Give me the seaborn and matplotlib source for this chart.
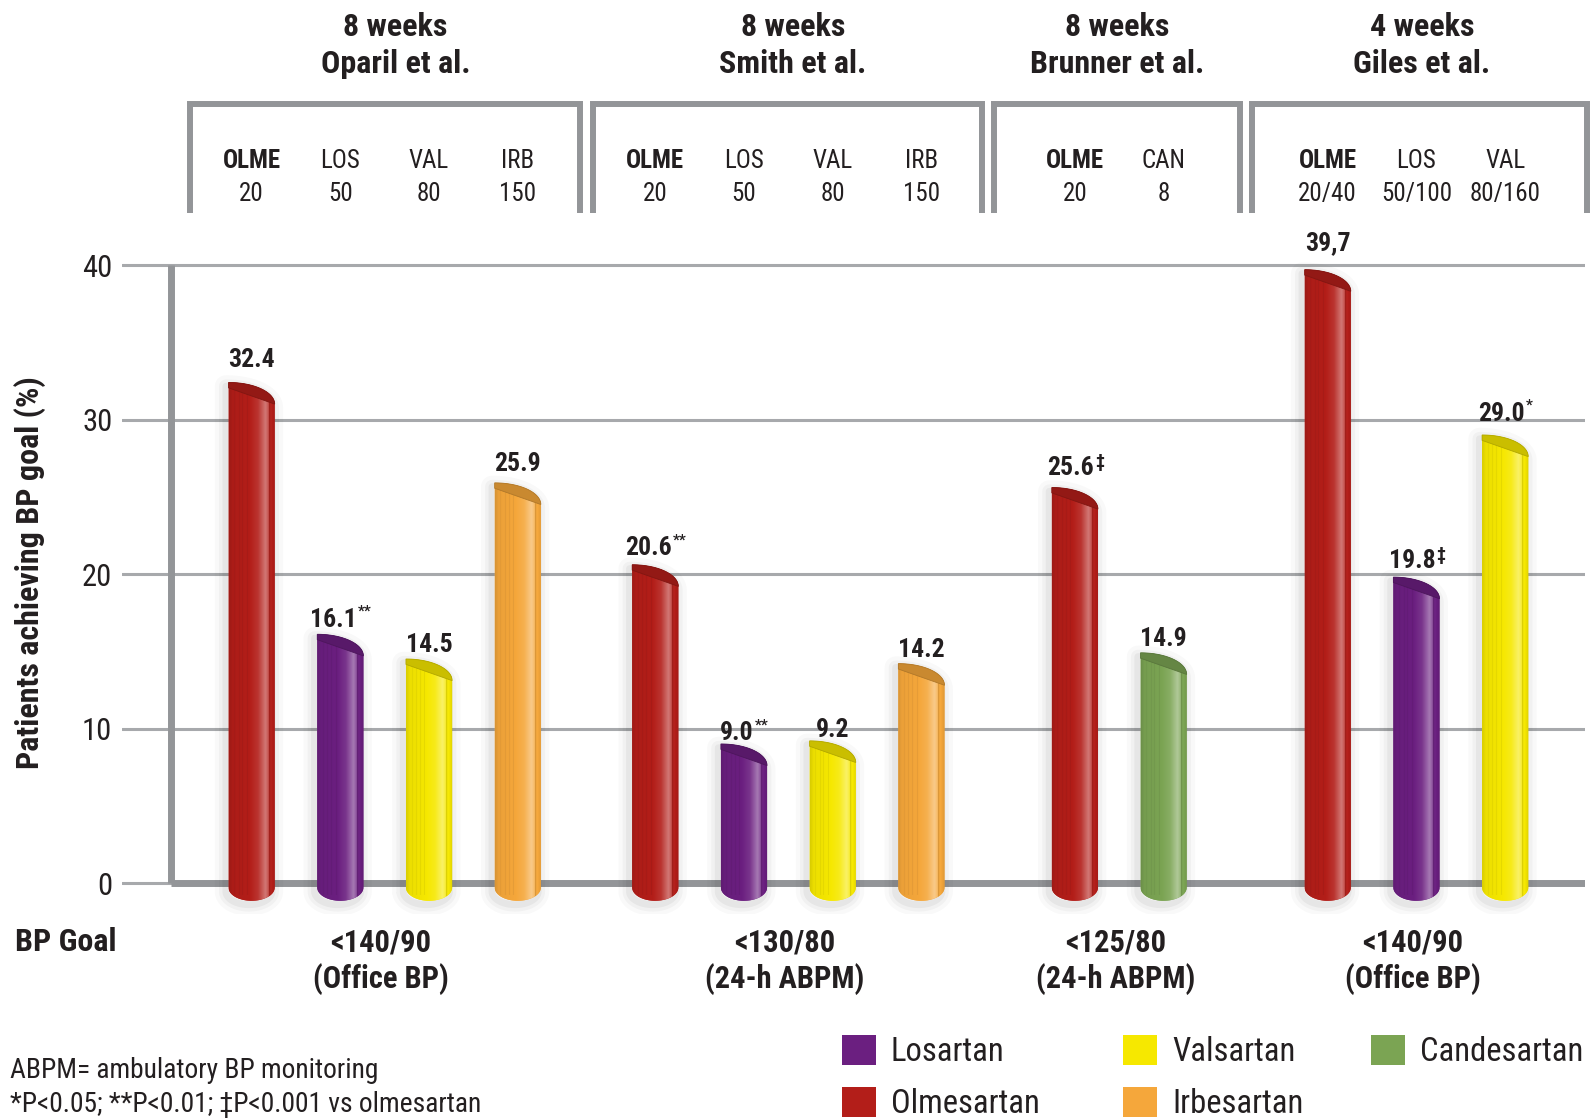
import numpy as np
import pandas as pd
import matplotlib
matplotlib.use("Agg")
import matplotlib.pyplot as plt
import seaborn as sns
from matplotlib.patches import Polygon, Patch
from matplotlib.transforms import blended_transform_factory, offset_copy

# ---------------- data ----------------
studies = ["Oparil et al.", "Smith et al.", "Brunner et al.", "Giles et al."]
durations = ["8 weeks", "8 weeks", "8 weeks", "4 weeks"]
bp_goals = ["<140/90", "<130/80", "<125/80", "<140/90"]
bp_methods = ["(Office BP)", "(24-h ABPM)", "(24-h ABPM)", "(Office BP)"]

oparil_drugs = ["Olmesartan", "Losartan", "Valsartan", "Irbesartan"]
oparil_codes = ["OLME", "LOS", "VAL", "IRB"]
oparil_doses = ["20", "50", "80", "150"]
oparil_values = [32.4, 16.1, 14.5, 25.9]
oparil_marks = ["", "**", "", ""]
oparil_sep = [".", ".", ".", "."]

smith_drugs = ["Olmesartan", "Losartan", "Valsartan", "Irbesartan"]
smith_codes = ["OLME", "LOS", "VAL", "IRB"]
smith_doses = ["20", "50", "80", "150"]
smith_values = [20.6, 9.0, 9.2, 14.2]
smith_marks = ["**", "**", "", ""]
smith_sep = [".", ".", ".", "."]

brunner_drugs = ["Olmesartan", "Candesartan"]
brunner_codes = ["OLME", "CAN"]
brunner_doses = ["20", "8"]
brunner_values = [25.6, 14.9]
brunner_marks = ["\u2021", ""]
brunner_sep = [".", "."]

giles_drugs = ["Olmesartan", "Losartan", "Valsartan"]
giles_codes = ["OLME", "LOS", "VAL"]
giles_doses = ["20/40", "50/100", "80/160"]
giles_values = [39.7, 19.8, 29.0]
giles_marks = ["", "\u2021", "*"]
giles_sep = [",", ".", "."]

legend_columns = [["Losartan", "Olmesartan"], ["Valsartan", "Irbesartan"], ["Candesartan"]]
drug_colors = {
    "Olmesartan": "#b31e19",
    "Losartan": "#6b1f80",
    "Valsartan": "#f6e800",
    "Irbesartan": "#f5a73b",
    "Candesartan": "#7ba453",
}
y_ticks = [0, 10, 20, 30, 40]
footnotes = ["ABPM= ambulatory BP monitoring",
             "*P<0.05; **P<0.01; \u2021P<0.001 vs olmesartan"]

tables = [
    (oparil_drugs, oparil_codes, oparil_doses, oparil_values, oparil_marks, oparil_sep),
    (smith_drugs, smith_codes, smith_doses, smith_values, smith_marks, smith_sep),
    (brunner_drugs, brunner_codes, brunner_doses, brunner_values, brunner_marks, brunner_sep),
    (giles_drugs, giles_codes, giles_doses, giles_values, giles_marks, giles_sep),
]

# ---------------- layout ----------------
group_gap = [1.55, 1.73, 1.85]      # distance between neighbouring studies (bar steps)
split_shift = [0.0, -0.11, 0.0]     # nudges the seam between neighbouring header boxes
header_shift = [0.12, 0.06, 0.0, 0.03]
BAR_W = 0.52
TEXT = "#231f20"
GRID = "#a7a9ac"
FRAME = "#939598"

group_pos = []
start = 0.0
for gi, tab in enumerate(tables):
    p = [start + k for k in range(len(tab[0]))]
    group_pos.append(p)
    if gi < len(group_gap):
        start = p[-1] + group_gap[gi]

rows = []
for gi, tab in enumerate(tables):
    drugs, codes, doses, values, marks, seps = tab
    for k in range(len(drugs)):
        rows.append(dict(pos=group_pos[gi][k], value=values[k], drug=drugs[k],
                         mark=marks[k], sep=seps[k]))
df = pd.DataFrame(rows)

sns.set_style("white")
plt.rcParams["font.family"] = ["Roboto Condensed", "PT Sans Narrow", "DejaVu Sans"]

W, H = 1591, 1119
def fy(py):
    return 1 - py / H
def fx(px):
    return px / W

fig = plt.figure(figsize=(W / 100, H / 100), dpi=100)
ax = fig.add_axes([fx(122), fy(913.9), (1585 - 122) / W, (913.9 - 260.4) / H])

sns.barplot(data=df, x="pos", y="value", hue="drug", palette=drug_colors,
            native_scale=True, dodge=False, width=BAR_W, errorbar=None,
            saturation=1, legend=False, ax=ax)

XLIM = (-1.461, 15.03)
YLIM = (-2.0, 40.3)


def tint(rgb, a):
    rgb = np.asarray(rgb[:3], dtype=float)
    return rgb + (1 - rgb) * a if a >= 0 else rgb * (1 + a)


shade_u = [0.0, 0.08, 0.45, 0.62, 0.78, 0.85, 0.862, 0.885, 1.0]
shade_a = [-0.12, -0.04, 0.0, 0.10, 0.40, 0.22, -0.22, 0.04, -0.10]


def cylinder(x0, w, h, color):
    """Draw one bar as a shaded column with a slanted round top."""
    x1 = x0 + w
    cap = 1.4
    b_top, b_depth = -0.3, 0.85
    t = np.linspace(0, np.pi / 2, 40)
    top_x = x0 + w * np.sin(t)
    top_y = h - cap + cap * np.cos(t)
    tb = np.linspace(0, np.pi, 50)
    bot_x = x0 + w / 2 + (w / 2) * np.cos(tb)
    bot_y = b_top - b_depth * np.sin(tb)
    xs = np.concatenate([[x0], top_x, [x1], bot_x])
    ys = np.concatenate([[b_top], top_y, [b_top], bot_y])
    verts = np.column_stack([xs, ys])

    # soft shadow
    for lw, al in [(16, 0.022), (10, 0.03), (5, 0.045)]:
        ax.add_patch(Polygon(verts + np.array([-0.03, -0.25]), closed=True,
                             fc="none", ec=(0, 0, 0, al), lw=lw, joinstyle="round",
                             zorder=2))
    body = Polygon(verts, closed=True, fc=color, ec="none", zorder=3)
    ax.add_patch(body)
    u = np.linspace(0, 1, 160)
    a = np.interp(u, shade_u, shade_a)
    img = np.array([tint(color, ai) for ai in a])[np.newaxis, :, :]
    im = ax.imshow(img, extent=[x0, x1, b_top - b_depth, h], origin="lower",
                   aspect="auto", interpolation="bilinear", zorder=3.1)
    im.set_clip_path(body)
    # faint vertical ridges on the shaded side
    for fr in (0.12, 0.22, 0.3, 0.4):
        ax.plot([x0 + fr * w] * 2, [b_top - 0.4, h - 0.15 - cap * (1 - np.cos(np.arcsin(fr)))],
                color=tint(color, -0.1), lw=0.8, alpha=0.6, zorder=3.15)
    # top face
    cap_verts = np.column_stack([np.concatenate([top_x, [x0]]),
                                 np.concatenate([top_y, [h - 0.35]])])
    ax.add_patch(Polygon(cap_verts, closed=True, fc=tint(color, -0.18),
                         ec=tint(color, -0.28), lw=0.6, zorder=3.2))


bars = sorted([p for p in ax.patches if p.get_height() > 0], key=lambda p: p.get_x())
for p in bars:
    p.set_visible(False)
    cylinder(p.get_x(), p.get_width(), p.get_height(), p.get_facecolor())

ax.set_xlim(*XLIM)
ax.set_ylim(*YLIM)
ax.set_xticks([])
ax.set_xlabel("")
ax.set_ylabel("")
for s in ax.spines.values():
    s.set_visible(False)
ax.set_yticks(y_ticks)
ax.set_yticklabels([str(v) for v in y_ticks])
ax.tick_params(axis="y", length=0, pad=7, labelsize=22, labelcolor=TEXT)
ax.yaxis.grid(True, color=GRID, lw=2.2)
ax.set_axisbelow(True)

AXIS_X = -0.91
ax.plot([AXIS_X, AXIS_X], [0, 40], color=FRAME, lw=5, solid_capstyle="butt", zorder=1)
ax.plot([AXIS_X, XLIM[1]], [0, 0], color=FRAME, lw=5, solid_capstyle="butt", zorder=1)

# value labels
renderer = fig.canvas.get_renderer()
for p, (_, r) in zip(bars, df.sort_values("pos").iterrows()):
    xc = p.get_x() + p.get_width() / 2
    v = p.get_height()
    ylab = v * 1.033 + 0.59
    label = f"{v:.1f}".replace(".", r["sep"])
    num = ax.text(xc, ylab, label, ha="left", va="center", fontsize=18.5,
                  fontweight="bold", color=TEXT, zorder=5)
    wn = num.get_window_extent(renderer).width
    sup = None
    ws = 0
    if r["mark"]:
        size = 13 if r["mark"] == "\u2021" else 11
        sup = ax.text(xc, ylab, r["mark"], ha="left", va="top", fontsize=size,
                      fontweight="bold", color=TEXT, zorder=5)
        ws = sup.get_window_extent(renderer).width
    total = wn + ws
    num.set_transform(offset_copy(ax.transData, fig=fig, x=-total / 2, y=-3, units="dots"))
    if sup is not None:
        sup.set_transform(offset_copy(ax.transData, fig=fig, x=-total / 2 + wn + 1, y=12,
                                      units="dots"))

# study headers and bracket boxes
blend = blended_transform_factory(ax.transData, fig.transFigure)
last = len(group_pos) - 1
for gi, p in enumerate(group_pos):
    if gi == 0:
        left = p[0] - 0.70
    else:
        left = (group_pos[gi - 1][-1] + p[0]) / 2 + split_shift[gi - 1] + 0.068
    if gi == last:
        right = p[-1] + 0.92
    else:
        right = (p[-1] + group_pos[gi + 1][0]) / 2 + split_shift[gi] - 0.068
    ax.plot([left, left, right, right], [fy(213), fy(103.5), fy(103.5), fy(213)],
            transform=blend, clip_on=False, color=FRAME, lw=4.3,
            solid_joinstyle="miter", solid_capstyle="butt")
    cx = (left + right) / 2 + header_shift[gi]
    ax.text(cx, fy(26.5), durations[gi], transform=blend, ha="center", va="center",
            fontsize=23, fontweight="bold", color=TEXT)
    ax.text(cx, fy(64), studies[gi], transform=blend, ha="center", va="center",
            fontsize=23, fontweight="bold", color=TEXT)
    drugs, codes, doses = tables[gi][0], tables[gi][1], tables[gi][2]
    for k, xk in enumerate(p):
        ax.text(xk, fy(160.5), codes[k], transform=blend, ha="center", va="center",
                fontsize=18, fontweight="bold" if codes[k] == "OLME" else "normal",
                color=TEXT)
        ax.text(xk, fy(194.5), doses[k], transform=blend, ha="center", va="center",
                fontsize=18, color=TEXT)
    gx = (p[0] + p[-1]) / 2 - 0.04
    ax.text(gx, fy(942), bp_goals[gi], transform=blend, ha="center", va="center",
            fontsize=22, fontweight="bold", color=TEXT)
    ax.text(gx, fy(979), bp_methods[gi], transform=blend, ha="center", va="center",
            fontsize=22, fontweight="bold", color=TEXT)

fig.text(fx(15), fy(942), "BP Goal", ha="left", va="center", fontsize=23,
         fontweight="bold", color=TEXT)
fig.text(fx(30), fy(573), "Patients achieving BP goal (%)", rotation=90,
         ha="center", va="center", fontsize=23, fontweight="bold", color=TEXT)
fig.text(fx(10), fy(1070), footnotes[0], ha="left", va="center", fontsize=19.8, color=TEXT)
fig.text(fx(10), fy(1104.5), footnotes[1], ha="left", va="center", fontsize=19.8, color=TEXT)

# legend, one block per column
col_left = [842, 1123, 1371]
for ci, names in enumerate(legend_columns):
    handles = [Patch(facecolor=drug_colors[n], edgecolor="none", label=n) for n in names]
    fig.legend(handles=handles, loc="upper left",
               bbox_to_anchor=(fx(col_left[ci]), fy(1035)), frameon=False,
               fontsize=23.5, handlelength=1.05, handleheight=1.05, handletextpad=0.45,
               labelspacing=0.58, borderpad=0, borderaxespad=0, labelcolor=TEXT)

fig.savefig("out.png", dpi=100)
